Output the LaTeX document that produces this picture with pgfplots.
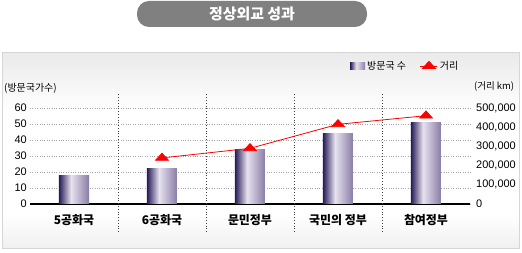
\documentclass[border=0pt]{standalone}
\usepackage{fontspec}
\setmainfont{Liberation Sans}
\newfontfamily\kr{Noto Sans CJK KR}
\usepackage{pgfplots}
\pgfplotsset{compat=1.18}
\definecolor{bardark}{HTML}{281C58}
\definecolor{barlight}{HTML}{E6E2EE}
\definecolor{barpurple}{HTML}{8A7CA6}
\definecolor{paneltop}{HTML}{EAEAEA}
\definecolor{panelbot}{HTML}{F0F0F0}
\definecolor{panelborder}{HTML}{D6D6D6}
\definecolor{titlegray}{HTML}{808080}
\pgfdeclarehorizontalshading{barshade}{100bp}{color(0bp)=(bardark); color(25bp)=(bardark); color(45bp)=(barlight); color(75bp)=(barpurple); color(100bp)=(barpurple)}
\pgfdeclareverticalshading{panelshade}{100bp}{color(0bp)=(panelbot); color(25bp)=(panelbot); color(34bp)=(white); color(60bp)=(white); color(75bp)=(paneltop); color(100bp)=(paneltop)}
\pgfplotsset{barstyle/.style={ybar, bar width=30bp, bar shift=0pt, draw=none, shading=barshade}}
\begin{document}
\begin{tikzpicture}
\path[use as bounding box] (0bp,0bp) rectangle (522bp,253bp);
\fill[white] (0bp,0bp) rectangle (522bp,253bp);
\path[shading=panelshade, draw=panelborder, line width=1bp] (2.5bp,4.5bp) rectangle (519.5bp,200.5bp);
\fill[titlegray, rounded corners=12bp] (137bp,226bp) rectangle (367bp,252bp);
\node[text=white, font=\kr\bfseries\fontsize{15}{18}\selectfont] at (252bp,239bp) {정상외교 성과};
\node[anchor=west, font=\kr\fontsize{10}{12}\selectfont, inner sep=0pt] at (4bp,165bp) {(방문국가수)};
\node[anchor=west, font=\kr\fontsize{9.5}{12}\selectfont, inner sep=0pt] at (474bp,166bp) {(거리 km)};

\begin{axis}[at={(30bp,49bp)}, anchor=south west, scale only axis,
  width=440bp, height=111bp,
  xmin=-0.5, xmax=4.5, ymin=0, ymax=69.375,
  clip=false,
  axis x line*=bottom, axis y line*=left,
  x axis line style={line width=2bp, black, -},
  y axis line style={draw=none},
  major tick length=0pt,
  xtick={0,1,2,3,4},
  xticklabels={5공화국, 6공화국, 문민정부, 국민의 정부, 참여정부},
  xticklabel style={font=\kr\bfseries\fontsize{12}{14}\selectfont, yshift=-7bp},
  ytick={0,10,20,30,40,50,60},
  yticklabel style={font=\fontsize{11}{13}\selectfont, inner sep=0pt, xshift=-3bp},
  /pgf/number format/assume math mode=true,
  ymajorgrids, grid style={dotted, gray!70, line width=0.6bp},
  legend style={at={(0.985,1.243)}, anchor=east, draw=none, fill=none,
    legend columns=2, font=\kr\fontsize{10}{12}\selectfont,
    /tikz/every even column/.append style={column sep=12bp}},
]
\addplot[barstyle,
  legend image code/.code={\path[shading=barshade] (0bp,-3.5bp) rectangle (15bp,4bp);}]
  coordinates {(0,18)};
\addlegendentry{방문국 수}
\addplot[barstyle, forget plot] coordinates {(1,22)};
\addplot[barstyle, forget plot] coordinates {(2,34)};
\addplot[barstyle, forget plot] coordinates {(3,44)};
\addplot[barstyle, forget plot] coordinates {(4,51)};
\addlegendimage{red, line width=0.8bp, mark=triangle*, mark size=5.5bp, mark options={xscale=1.35, yscale=0.85}}
\addlegendentry{거리}
\pgfplotsinvokeforeach{0.5,1.5,2.5,3.5}{
  \draw[dotted, black!75, line width=0.8bp] (axis cs:#1,-17.5) -- (axis cs:#1,69.375);
}
\end{axis}

\begin{axis}[at={(30bp,49bp)}, anchor=south west, scale only axis,
  width=440bp, height=111bp,
  xmin=-0.5, xmax=4.5, ymin=0, ymax=578125,
  clip=false,
  axis x line=none, axis y line*=right,
  y axis line style={draw=none},
  major tick length=0pt,
  ytick={0,100000,200000,300000,400000,500000},
  scaled y ticks=false,
  yticklabel style={font=\fontsize{11}{13}\selectfont, inner sep=0pt, xshift=6bp,
    /pgf/number format/fixed, /pgf/number format/1000 sep={,}},
  /pgf/number format/assume math mode=true,
]
\addplot[red, line width=0.8bp, mark=triangle*, mark size=5.5bp, mark options={xscale=1.35, yscale=0.85}]
  coordinates {(1,240000) (2,290000) (3,415000) (4,460000)};
\end{axis}
\end{tikzpicture}
\end{document}
